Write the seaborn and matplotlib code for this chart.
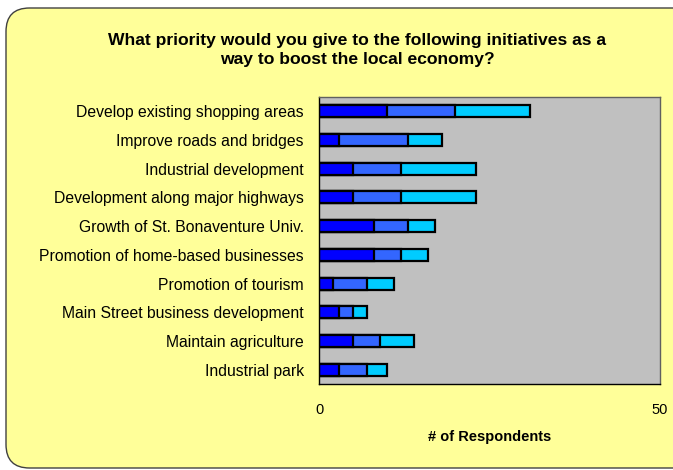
import matplotlib
matplotlib.use("Agg")
import matplotlib.pyplot as plt
from matplotlib.patches import FancyBboxPatch
import pandas as pd
import seaborn as sns

# initiatives, top to bottom
initiatives = [
    "Develop existing shopping areas",
    "Improve roads and bridges",
    "Industrial development",
    "Development along major highways",
    "Growth of St. Bonaventure Univ.",
    "Promotion of home-based businesses",
    "Promotion of tourism",
    "Main Street business development",
    "Maintain agriculture",
    "Industrial park",
]
# respondents per priority level (stacked segments)
first = [10, 3, 5, 5, 8, 8, 2, 3, 5, 3]
second = [10, 10, 7, 7, 5, 4, 5, 2, 4, 4]
third = [11, 5, 11, 11, 4, 4, 4, 2, 5, 3]
x_ticks = [0, 50]

df = pd.DataFrame({"initiative": initiatives, "first": first,
                   "second": second, "third": third})
df["c1"] = df["first"]
df["c2"] = df["first"] + df["second"]
df["c3"] = df["c2"] + df["third"]

sns.set_style("white")
plt.rcParams["font.family"] = ["Liberation Sans", "DejaVu Sans"]
plt.rcParams["text.color"] = "black"
plt.rcParams["axes.labelcolor"] = "black"
plt.rcParams["xtick.color"] = "black"
plt.rcParams["ytick.color"] = "black"

fig = plt.figure(figsize=(6.73, 4.70), dpi=100)
fig.patch.set_facecolor("white")
# rounded yellow chart area
bg = FancyBboxPatch((6 / 673, 2 / 470), 700 / 673, 460 / 470,
                    boxstyle="round,pad=0,rounding_size=0.035",
                    transform=fig.transFigure, facecolor="#FFFF99",
                    edgecolor="#404040", linewidth=1.0, zorder=-5,
                    mutation_aspect=673 / 470)
fig.patches.append(bg)

ax = fig.add_axes([319 / 673, 86 / 470, 341 / 673, 287 / 470])
ax.set_zorder(2)
ax.set_facecolor("#C0C0C0")

for col, color in [("c3", "#00CCFF"), ("c2", "#3366FF"), ("c1", "#0000FF")]:
    sns.barplot(data=df, y="initiative", x=col, orient="h", color=color,
                edgecolor="black", linewidth=1.6, width=0.42,
                saturation=1, ax=ax)

ax.set_xlim(0, 50)
ax.set_xticks(x_ticks)
ax.set_xlabel("# of Respondents", fontsize=10.5, fontweight="bold",
              labelpad=9)
ax.set_ylabel("")
ax.tick_params(axis="x", length=3, labelsize=10.5, pad=11, color="#404040")
ax.tick_params(axis="y", length=0, labelsize=11.3, pad=11)
# tick marks between categories
ax.set_yticks([i + 0.5 for i in range(-1, len(initiatives))], minor=True)
ax.tick_params(axis="y", which="minor", length=4, color="#404040")

for side in ["top", "right"]:
    ax.spines[side].set_color("#606060")
    ax.spines[side].set_linewidth(1.0)
for side in ["left", "bottom"]:
    ax.spines[side].set_color("black")
    ax.spines[side].set_linewidth(1.0)

fig.text(357 / 673, 1 - 50 / 470,
         "What priority would you give to the following initiatives as a\n"
         "way to boost the local economy?",
         ha="center", va="center", fontsize=12.6, fontweight="bold",
         linespacing=1.3)

fig.savefig("out.png", dpi=100)
